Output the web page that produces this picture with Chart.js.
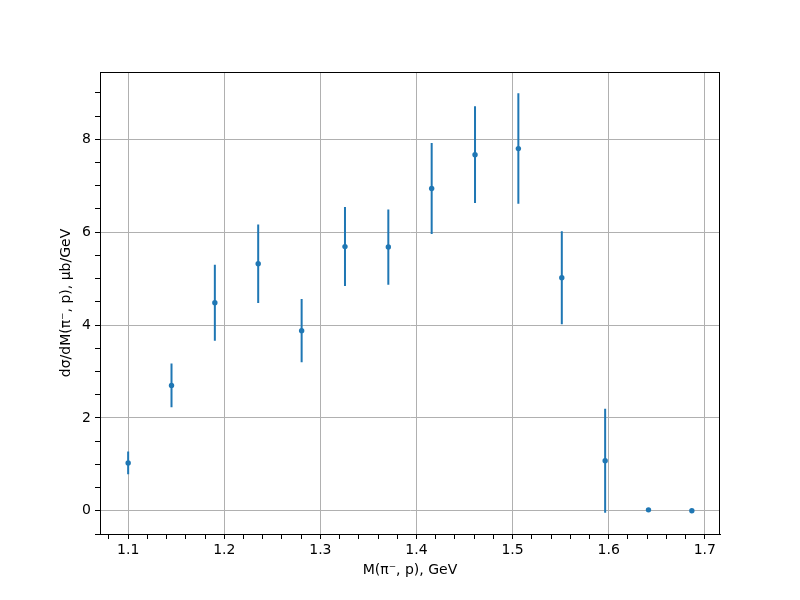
<!DOCTYPE html>
<html>
<head>
<meta charset="utf-8">
<script src="https://cdn.jsdelivr.net/npm/chart.js@4"></script>
<style>
  html, body { margin: 0; padding: 0; background: #fff; }
  #wrap { width: 800px; height: 600px; }
</style>
</head>
<body>
<div id="wrap"><canvas id="myChart" width="800" height="600"></canvas></div>
<script>
// bin centres, GeV
var massBins = [1.1, 1.1451, 1.1902, 1.2353, 1.2805, 1.3256, 1.3707, 1.4158, 1.4609, 1.5060, 1.5512, 1.5963, 1.6414, 1.6865];
// dsigma/dM, ub/GeV
var xsecValues = [1.03, 2.70, 4.48, 5.32, 3.88, 5.69, 5.68, 6.94, 7.67, 7.80, 5.02, 1.08, 0.02, 0.0];
var xsecErrors = [0.245, 0.47, 0.82, 0.845, 0.68, 0.85, 0.81, 0.98, 1.04, 1.19, 1.0, 1.12, 0.0, 0.0];

var xMajorTicks = [1.1, 1.2, 1.3, 1.4, 1.5, 1.6, 1.7];
var yMajorTicks = [0, 2, 4, 6, 8];

var blue = '#1f77b4';
var font = { family: 'DejaVu Sans', size: 14 };

var points = [];
var bars = [];
for (var i = 0; i < massBins.length; i++) {
    points.push({ x: massBins[i], y: xsecValues[i] });
    bars.push({ x: massBins[i], y: xsecValues[i] - xsecErrors[i] });
    bars.push({ x: massBins[i], y: xsecValues[i] + xsecErrors[i] });
    bars.push({ x: massBins[i], y: null });
}

function isMajor(v, list) {
    return list.some(function (m) { return Math.abs(m - v) < 1e-6; });
}

// matplotlib style frame on all four sides
var framePlugin = {
    id: 'frame',
    afterDraw: function (chart) {
        var a = chart.chartArea, ctx = chart.ctx;
        ctx.save();
        ctx.strokeStyle = '#000';
        ctx.lineWidth = 1;
        ctx.strokeRect(a.left + 0.5, a.top + 0.5, a.right - a.left - 1, a.bottom - a.top);
        ctx.restore();
    }
};

var ctx = document.getElementById('myChart').getContext('2d');
var myChart = new Chart(ctx, {
    type: 'scatter',
    data: {
        datasets: [{
            label: 'data',
            data: points,
            backgroundColor: blue,
            borderColor: blue,
            pointRadius: 2.7,
            pointBorderWidth: 0,
            pointHoverRadius: 2.7,
            order: 0
        }, {
            label: 'errors',
            type: 'line',
            data: bars,
            borderColor: blue,
            borderWidth: 2,
            pointRadius: 0,
            showLine: true,
            spanGaps: false,
            order: 1
        }]
    },
    options: {
        responsive: false,
        animation: false,
        layout: { padding: { top: 72, right: 80, left: 0, bottom: 0 } },
        plugins: { legend: { display: false }, tooltip: { enabled: false } },
        scales: {
            x: {
                type: 'linear',
                min: 1.0707,
                max: 1.7158,
                afterBuildTicks: function (scale) {
                    var t = [];
                    for (var k = 0; k <= 31; k++) t.push({ value: Math.round((1.08 + k * 0.02) * 1000) / 1000 });
                    scale.ticks = t.filter(function (o) { return o.value >= scale.min && o.value <= scale.max; });
                },
                afterFit: function (scale) { scale.height = 66; },
                ticks: {
                    autoSkip: false,
                    maxRotation: 0,
                    padding: 3,
                    color: '#000',
                    font: font,
                    callback: function (v) { return isMajor(v, xMajorTicks) ? v.toFixed(1) : ''; }
                },
                grid: {
                    color: function (c) { return c.tick && isMajor(c.tick.value, xMajorTicks) ? '#b0b0b0' : 'rgba(0,0,0,0)'; },
                    lineWidth: 1,
                    tickColor: '#000',
                    tickLength: 5
                },
                border: { color: '#000', width: 1 },
                title: {
                    display: true,
                    text: 'M(π⁻, p), GeV',
                    color: '#000',
                    font: font,
                    padding: { top: 0, bottom: 21 }
                }
            },
            y: {
                type: 'linear',
                min: -0.5,
                max: 9.45,
                afterBuildTicks: function (scale) {
                    var t = [];
                    for (var k = -1; k <= 18; k++) t.push({ value: k * 0.5 });
                    scale.ticks = t.filter(function (o) { return o.value >= scale.min && o.value <= scale.max; });
                },
                afterFit: function (scale) { scale.width = 100; },
                ticks: {
                    autoSkip: false,
                    padding: 4,
                    color: '#000',
                    font: font,
                    callback: function (v) { return isMajor(v, yMajorTicks) ? String(Math.round(v)) : ''; }
                },
                grid: {
                    color: function (c) { return c.tick && isMajor(c.tick.value, yMajorTicks) ? '#b0b0b0' : 'rgba(0,0,0,0)'; },
                    lineWidth: 1,
                    tickColor: '#000',
                    tickLength: 5
                },
                border: { color: '#000', width: 1 },
                title: {
                    display: true,
                    text: 'dσ/dM(π⁻, p), μb/GeV',
                    color: '#000',
                    font: font,
                    padding: { top: 58, bottom: 0 }
                }
            }
        }
    },
    plugins: [framePlugin]
});
</script>
</body>
</html>
